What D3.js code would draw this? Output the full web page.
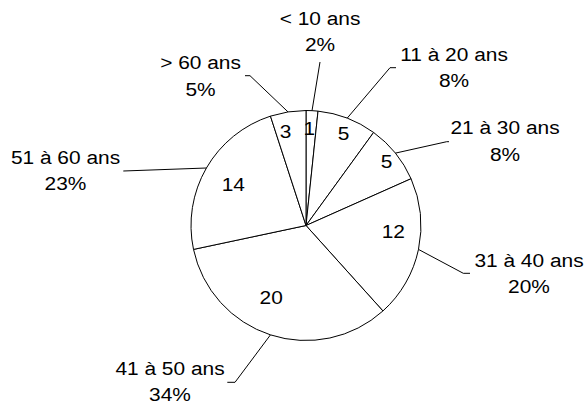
<!DOCTYPE html>
<html><head><meta charset="utf-8">
<script src="https://cdn.jsdelivr.net/npm/d3@7"></script>
<style>body{margin:0;background:#fff}svg text{font-family:"Liberation Sans",Arial,sans-serif;font-size:19px;fill:#000}</style>
</head><body><svg id="c" width="586" height="408"></svg>
<script>
const categories = ["< 10 ans","11 à 20 ans","21 à 30 ans","31 à 40 ans","41 à 50 ans","51 à 60 ans","> 60 ans"];
const values = [1,5,5,12,20,14,3];
const percentLabels = ["2%","8%","8%","20%","34%","23%","5%"];

// layout (annotation placement, not data)
const cx = 306, cy = 225.5, R = 115;
const innerPos = [[-1,0.85],[1,0.87],[0,0.9],[-9,0.76],[8,0.69],[0,0.73],[-3,0.85]]; // [angle shift deg, radius factor]
const outerText = [[14,-200.5],[148,-164.8],[199,-91.2],[223,41.2],[-136,149.5],[-240.5,-61.5],[-105.5,-156.2]]; // text centre / first baseline rel. to centre
const leader = [[[14,-163.5]],[[84,-157.8],[90,-157.8]],[[140.7,-83.8],[143,-83.8]],[[157.3,47.8],[164,47.8]],[[-71,156.8],[-78.7,156.8]],[[-182.7,-54.5]],[[-56,-149.8],[-61,-149.8]]];
const sx = 1.1;

const svg = d3.select("#c");
const g = svg.append("g").attr("transform",`translate(${cx},${cy})`);
const pie = d3.pie().sort(null).value(d=>d);
const arcs = pie(values);
const arc = d3.arc().innerRadius(0).outerRadius(R);

g.selectAll("path.s").data(arcs).join("path").attr("class","s")
  .attr("d",arc).attr("fill","#fff").attr("stroke","#000").attr("stroke-width",1);

g.selectAll("text.v").data(arcs).join("text").attr("class","v")
  .attr("text-anchor","middle").attr("dominant-baseline","central")
  .attr("transform",(d,i)=>{const a=(d.startAngle+d.endAngle)/2+innerPos[i][0]*Math.PI/180;
     return `translate(${Math.sin(a)*R*innerPos[i][1]},${-Math.cos(a)*R*innerPos[i][1]+1}) scale(${sx},1)`;})
  .text(d=>d.data);

const line = d3.line();
g.selectAll("path.l").data(arcs).join("path").attr("class","l")
  .attr("fill","none").attr("stroke","#000").attr("stroke-width",1)
  .attr("d",(d,i)=>{const a=(d.startAngle+d.endAngle)/2;return line([[Math.sin(a)*R,-Math.cos(a)*R],...leader[i]]);});

const lab = g.selectAll("text.o").data(arcs).join("text").attr("class","o")
  .attr("text-anchor","middle")
  .attr("transform",(d,i)=>`translate(${outerText[i][0]},${outerText[i][1]}) scale(${sx},1)`);
lab.append("tspan").attr("x",0).attr("y",0).text((d,i)=>categories[i]);
lab.append("tspan").attr("x",0).attr("y",26.5).text((d,i)=>percentLabels[i]);
</script></body></html>
